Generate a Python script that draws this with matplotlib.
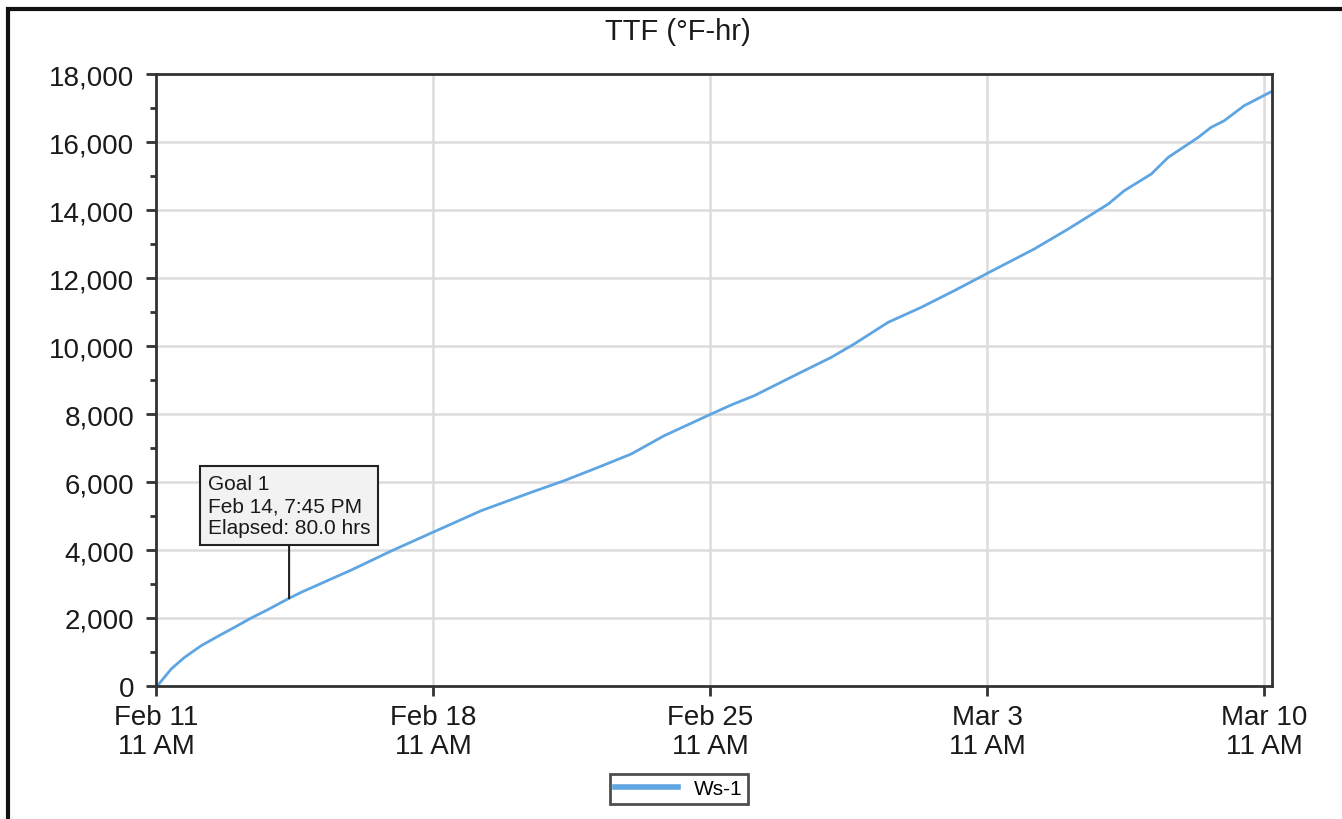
import matplotlib.pyplot as plt
import matplotlib.dates as mdates
from matplotlib.patches import Rectangle
from matplotlib.ticker import FuncFormatter, MultipleLocator
from datetime import datetime, timedelta

plt.rcParams['font.family'] = ['Liberation Sans', 'DejaVu Sans']

# data: hours elapsed since start, TTF value
start = datetime(2024, 2, 11, 11, 45)
hours = [0, 8.5, 16.6, 26.7, 36.8, 46.9, 57.0, 67.1, 80.0, 87.3, 117.7, 141.9,
         166.2, 196.5, 226.8, 246.8, 267.5, 287.5, 307.5, 336.0, 348.1, 362.1,
         386.3, 408.8, 422.7, 443.3, 463.4, 483.4, 504.6, 531.9, 552.5, 576.8,
         586.5, 602.9, 613.2, 631.4, 639.2, 647.1, 659.2, 676.8]
ttf = [0, 500, 843, 1186, 1461, 1726, 2000, 2245, 2580, 2755, 3410, 3970,
       4500, 5156, 5696, 6038, 6432, 6824, 7362, 8000, 8265, 8539,
       9127, 9667, 10059, 10697, 11138, 11627, 12167, 12853, 13441, 14176,
       14568, 15059, 15550, 16138, 16432, 16626, 17068, 17509]
goal_hours = 80.0
goal_value = 2580
tick_dates = [datetime(2024, 2, 11, 11), datetime(2024, 2, 18, 11), datetime(2024, 2, 25, 11),
              datetime(2024, 3, 3, 11), datetime(2024, 3, 10, 11)]

times = [start + timedelta(hours=h) for h in hours]

fig = plt.figure(figsize=(13.42, 8.2), dpi=100)
ax = fig.add_axes([0.1162, 0.1622, 0.8316, 0.7463])

line_color = '#5ea5e2'
ax.plot(times, ttf, color=line_color, lw=2, label='Ws-1')

ax.set_xlim(datetime(2024, 2, 11, 11), datetime(2024, 3, 10, 15, 50))
ax.set_ylim(0, 18000)
ax.set_xticks(tick_dates)
ax.xaxis.set_major_formatter(mdates.DateFormatter('%b %-d\n%-I %p'))
ax.yaxis.set_major_locator(MultipleLocator(2000))
ax.yaxis.set_minor_locator(MultipleLocator(1000))
ax.yaxis.set_major_formatter(FuncFormatter(lambda v, p: f'{int(v):,}'))

ax.grid(True, which='major', color='#dcdcdc', lw=1.8)
ax.set_axisbelow(True)
for s in ax.spines.values():
    s.set_color('#333333')
    s.set_linewidth(2)
ax.tick_params(axis='both', which='major', labelsize=20, color='#333333', width=2,
               length=7, labelcolor='#1a1a1a')
ax.tick_params(axis='y', which='minor', color='#333333', width=2, length=4)
ax.tick_params(axis='y', which='major', pad=8.5)
ax.tick_params(axis='x', pad=6)
for lab in ax.get_xticklabels():
    lab.set_linespacing(1.15)

fig.text(0.5052, 0.961, 'TTF (°F-hr)', ha='center', va='center', fontsize=21, color='#1a1a1a')

# goal annotation
goal_time = start + timedelta(hours=goal_hours)
ax.annotate('Goal 1\nFeb 14, 7:45 PM\nElapsed: 80.0 hrs',
            xy=(goal_time, goal_value), xytext=(goal_time, 4380),
            ha='center', va='bottom', multialignment='left', fontsize=15,
            color='#1a1a1a', linespacing=1.2,
            bbox=dict(boxstyle='square,pad=0.38', fc='#f2f2f2', ec='#222222', lw=1.5),
            arrowprops=dict(arrowstyle='-', color='#222222', lw=1.5, shrinkA=0, shrinkB=0))

leg = fig.legend(loc='center', bbox_to_anchor=(0.506, 0.0366), fontsize=15, frameon=True,
                 fancybox=False, handlelength=3.0, borderpad=0.25, handletextpad=0.8)
leg.get_frame().set_edgecolor('#222222')
leg.get_frame().set_linewidth(2)
leg.get_lines()[0].set_linewidth(4)

# outer frame: only left and top edges fall inside the image
fig.patches.append(Rectangle((0.006, -0.01), 1.0, 0.998, transform=fig.transFigure,
                             fill=False, ec='#111111', lw=3))

fig.savefig('out.png', dpi=100)
